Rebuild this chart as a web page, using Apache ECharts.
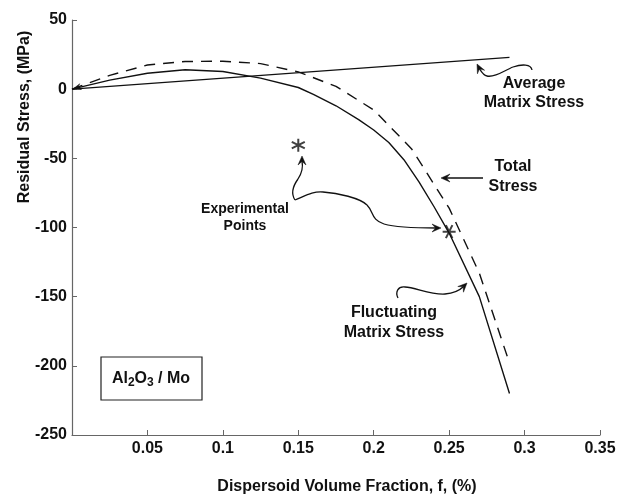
<!DOCTYPE html>
<html><head><meta charset="utf-8">
<script src="https://cdn.jsdelivr.net/npm/echarts@6/dist/echarts.min.js"></script>
<style>html,body{margin:0;padding:0;background:#fff}#c{width:630px;height:497px}</style>
</head><body><div id="c"></div>
<script>
// ---- data ----
const fluctX = [0, 0.025, 0.05, 0.075, 0.1, 0.125, 0.15, 0.16, 0.175, 0.19, 0.2, 0.21, 0.22, 0.23, 0.24, 0.25, 0.27, 0.29];
const fluctY = [0, 6.5, 11.5, 14, 12.8, 8, 1.2, -3.8, -12, -22, -29.5, -38.5, -51, -67, -85, -104, -150, -220];
const totalX = [0, 0.025, 0.05, 0.075, 0.1, 0.125, 0.15, 0.175, 0.2, 0.225, 0.25, 0.27, 0.29];
const totalY = [0, 10, 17.5, 20, 20.2, 18.5, 12.5, 2, -15, -43, -86, -133, -198];
const avgX = [0, 0.29];
const avgY = [0, 23];
const expX = [0.15, 0.25];
const expY = [-40.5, -103];
const xTicks = [0.05, 0.1, 0.15, 0.2, 0.25, 0.3, 0.35];
const yTicks = [50, 0, -50, -100, -150, -200, -250];
const xTitle = 'Dispersoid Volume Fraction, f, (%)';
const yTitle = 'Residual Stress, (MPa)';

const FONT = "'Liberation Sans', Arial, Helvetica, sans-serif";
const INK = '#111';
const pairs = (xs, ys) => xs.map((x, i) => [x, ys[i]]);

// annotation helpers (pixel-space decorations)
function curve(pts) {
  const els = [];
  for (let i = 0; i + 7 < pts.length; i += 6) {
    els.push({
      type: 'bezierCurve',
      shape: { x1: pts[i], y1: pts[i + 1], cpx1: pts[i + 2], cpy1: pts[i + 3], cpx2: pts[i + 4], cpy2: pts[i + 5], x2: pts[i + 6], y2: pts[i + 7] },
      style: { stroke: INK, lineWidth: 1.3, fill: null }
    });
  }
  return els;
}
function head(tx, ty, dx, dy, L, W) {
  const n = Math.hypot(dx, dy); dx /= n; dy /= n;
  const px = -dy, py = dx;
  L = L || 9; W = W || 4;
  return {
    type: 'polygon',
    shape: { points: [[tx, ty], [tx - L * dx + W * px, ty - L * dy + W * py], [tx - 0.6 * L * dx, ty - 0.6 * L * dy], [tx - L * dx - W * px, ty - L * dy - W * py]] },
    style: { fill: INK, stroke: INK, lineWidth: 0.5 }
  };
}
function label(text, x, y, size, lh, rot) {
  return {
    type: 'text', x: x, y: y, rotation: rot || 0,
    style: { text: text, font: 'bold ' + size + 'px ' + FONT, fill: INK, align: 'center', verticalAlign: 'middle', lineHeight: lh }
  };
}

const graphics = [].concat(
  label(yTitle, 25, 117, 16, 18, Math.PI / 2),
  label(xTitle, 347, 487, 16, 18),
  label('Average\nMatrix Stress', 534, 93, 16, 19),
  curve([532, 70, 531, 64, 522, 64, 513, 67, 505, 70, 495, 78, 487, 76, 483, 75, 481, 71, 479, 68]),
  head(477, 64, -0.45, -0.9),
  label('Total\nStress', 513, 177, 16, 20),
  [{ type: 'line', shape: { x1: 483, y1: 178, x2: 446, y2: 178 }, style: { stroke: INK, lineWidth: 1.3 } }],
  head(441, 178, -1, 0),
  label('Experimental\nPoints', 245, 218, 14, 17),
  curve([295, 200, 291, 194, 293, 186, 298, 179, 302, 173, 303, 166, 302, 161]),
  head(302, 156, 0, -1),
  curve([295, 200, 305, 196, 313, 191, 323, 192, 338, 193, 360, 198, 367, 205, 374, 212, 371, 220, 384, 224, 398, 228, 420, 228, 436, 228]),
  head(441, 228, 1, 0),
  label('Fluctuating\nMatrix Stress', 394, 323, 16, 20),
  curve([398, 298, 395, 292, 398, 286, 405, 287, 415, 287, 430, 295, 445, 294, 455, 293, 460, 290, 463, 287]),
  head(467, 283, 0.7, -0.7),
  head(73, 89, -0.96, 0.3, 8, 3),
  [{ type: 'rect', shape: { x: 101, y: 357, width: 101, height: 43 }, style: { stroke: '#222', lineWidth: 1.2, fill: null } },
   { type: 'text', x: 151, y: 379,
     style: { text: '{a|Al}{s|2}{a|O}{s|3}{a| / Mo}', align: 'center', verticalAlign: 'middle',
       rich: { a: { font: 'bold 16px ' + FONT, fill: INK, lineHeight: 20 }, s: { font: 'bold 12px ' + FONT, fill: INK, padding: [8, 0, 0, 0] } } } }]
);

const chart = echarts.init(document.getElementById('c'));
const axisText = { color: INK, fontFamily: FONT, fontWeight: 'bold', fontSize: 16 };
chart.setOption({
  animation: false,
  backgroundColor: '#fff',
  grid: { left: 72, right: 30, top: 20, bottom: 62 },
  xAxis: {
    type: 'value', min: 0, max: 0.35, interval: 0.05,
    axisLine: { onZero: false, lineStyle: { color: '#666', width: 1.2 } },
    axisTick: { inside: true, length: 5, lineStyle: { color: '#666' } },
    axisLabel: Object.assign({ margin: 6, formatter: v => (xTicks.some(t => Math.abs(t - v) < 1e-9) ? String(+v.toFixed(2)) : '') }, axisText),
    splitLine: { show: false }
  },
  yAxis: {
    type: 'value', min: -250, max: 50, interval: 50,
    axisLine: { show: true, lineStyle: { color: '#666', width: 1.2 } },
    axisTick: { show: true, inside: true, length: 5, lineStyle: { color: '#666' } },
    axisLabel: Object.assign({ margin: 5, formatter: v => (yTicks.includes(v) ? String(v) : '') }, axisText),
    splitLine: { show: false }
  },
  series: [
    { type: 'line', name: 'Average Matrix Stress', data: pairs(avgX, avgY), symbol: 'none', lineStyle: { color: INK, width: 1.3 } },
    { type: 'line', name: 'Fluctuating Matrix Stress', data: pairs(fluctX, fluctY), symbol: 'none', lineStyle: { color: INK, width: 1.4 } },
    { type: 'line', name: 'Total Stress', data: pairs(totalX, totalY), symbol: 'none', lineStyle: { color: INK, width: 1.4, type: [11, 8] } },
    { type: 'scatter', name: 'Experimental Points', data: pairs(expX, expY),
      symbol: 'path://M50 0 L50 100 M6.7 25 L93.3 75 M6.7 75 L93.3 25', symbolSize: 13,
      symbolRotate: (v, p) => (p.dataIndex === 1 ? 90 : 0),
      itemStyle: { color: 'rgba(0,0,0,0)', borderColor: INK, borderWidth: 2 } }
  ],
  graphic: graphics
});
</script>
</body></html>
